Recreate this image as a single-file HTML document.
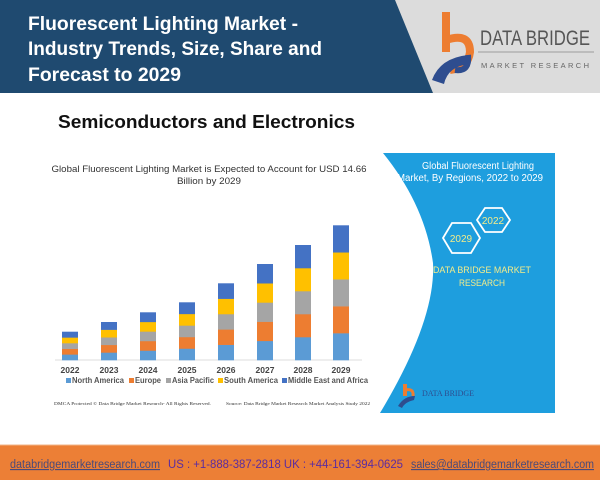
<!DOCTYPE html>
<html><head><meta charset="utf-8"><style>
*{margin:0;padding:0}
body{width:600px;height:480px;overflow:hidden;background:#fff;font-family:"Liberation Sans",sans-serif;position:relative}
.a{position:absolute}
</style></head><body>
<svg class="a" style="left:0;top:0" width="600" height="480">
<rect x="0" y="0" width="600" height="93" fill="#dcdcdc"/>
<polygon points="0,0 395,0 433,93 0,93" fill="#1f4a70"/>
<rect x="442" y="12" width="8" height="40" fill="#ed7d31"/>
<path d="M446 40 Q470 32 470 52 Q468 68 450 70" fill="none" stroke="#ed7d31" stroke-width="8"/>
<path d="M432 80 Q440 58 468 55 L470 64 Q448 66 444 84 Z" fill="#2e4d8f"/>
<path d="M455 70 Q470 72 468 55" fill="none" stroke="#2e4d8f" stroke-width="6"/>
<text x="480" y="45" font-family="Liberation Sans Narrow,Liberation Sans,sans-serif" font-size="21" fill="#555" textLength="110" lengthAdjust="spacingAndGlyphs">DATA BRIDGE</text>
<line x1="478" y1="52" x2="594" y2="52" stroke="#888" stroke-width="0.8"/>
<text x="481" y="68" font-size="7.5" fill="#666" textLength="108" lengthAdjust="spacing">MARKET RESEARCH</text>
<text x="28" y="30" font-size="19" font-weight="bold" fill="#fff" textLength="270" lengthAdjust="spacingAndGlyphs">Fluorescent Lighting Market -</text>
<text x="28" y="55" font-size="19" font-weight="bold" fill="#fff" textLength="294" lengthAdjust="spacingAndGlyphs">Industry Trends, Size, Share and</text>
<text x="28" y="81" font-size="19" font-weight="bold" fill="#fff" textLength="153" lengthAdjust="spacingAndGlyphs">Forecast to 2029</text>
<text x="58" y="128" font-size="18.5" font-weight="bold" fill="#111" textLength="297" lengthAdjust="spacingAndGlyphs">Semiconductors and Electronics</text>
<path d="M383 153 L555 153 L555 413 L380 413 Q436 320 433 263 Q425 205 383 153 Z" fill="#1e9ede"/>
<text x="478" y="169" font-size="10" fill="#fff" text-anchor="middle" textLength="112" lengthAdjust="spacingAndGlyphs">Global Fluorescent Lighting</text>
<text x="470" y="181" font-size="10" fill="#fff" text-anchor="middle" textLength="146" lengthAdjust="spacingAndGlyphs">Market, By Regions, 2022 to 2029</text>
<polygon points="477,220 485,208 502,208 510,220 502,232 485,232" fill="none" stroke="#fff" stroke-width="1.8"/>
<text x="493" y="224" font-size="10" fill="#f3ec8a" text-anchor="middle">2022</text>
<polygon points="443,238 452,223 471,223 480,238 471,253 452,253" fill="none" stroke="#fff" stroke-width="1.8"/>
<text x="461" y="242" font-size="10" fill="#f3ec8a" text-anchor="middle">2029</text>
<text x="482" y="273" font-size="9.5" fill="#f3ec8a" text-anchor="middle" textLength="98" lengthAdjust="spacingAndGlyphs">DATA BRIDGE MARKET</text>
<text x="482" y="286" font-size="9.5" fill="#f3ec8a" text-anchor="middle" textLength="46" lengthAdjust="spacingAndGlyphs">RESEARCH</text>
<rect x="403" y="384" width="4" height="12" fill="#ed7d31"/>
<path d="M405 390 Q414 388 413 396" fill="none" stroke="#ed7d31" stroke-width="3"/>
<path d="M398 406 Q404 396 415 396 L414 400 Q405 402 402 408Z" fill="#2e4d8f"/>
<text x="422" y="396" font-family="Liberation Serif,serif" font-size="8" fill="#2e4d8f">DATA BRIDGE</text>
<text x="209" y="172" font-size="9.5" fill="#333" text-anchor="middle" textLength="315" lengthAdjust="spacingAndGlyphs">Global Fluorescent Lighting Market is Expected to Account for USD 14.66</text>
<text x="209" y="184" font-size="9.5" fill="#333" text-anchor="middle" textLength="64" lengthAdjust="spacingAndGlyphs">Billion by 2029</text>
<line x1="55" y1="360" x2="362" y2="360" stroke="#ddd" stroke-width="1"/>
<g id="bars"></g>
<g font-size="8.5" font-weight="bold" fill="#444" text-anchor="middle">
<text x="70" y="373">2022</text><text x="109" y="373">2023</text><text x="148" y="373">2024</text><text x="187" y="373">2025</text><text x="226" y="373">2026</text><text x="265" y="373">2027</text><text x="303" y="373">2028</text><text x="341" y="373">2029</text>
</g>
<g font-size="8" font-weight="bold" fill="#555">
<rect x="66" y="378" width="5" height="5" fill="#5b9bd5"/><text x="72" y="383" textLength="52" lengthAdjust="spacingAndGlyphs">North America</text>
<rect x="129" y="378" width="5" height="5" fill="#ed7d31"/><text x="135" y="383" textLength="26" lengthAdjust="spacingAndGlyphs">Europe</text>
<rect x="166" y="378" width="5" height="5" fill="#a5a5a5"/><text x="172" y="383" textLength="42" lengthAdjust="spacingAndGlyphs">Asia Pacific</text>
<rect x="218" y="378" width="5" height="5" fill="#ffc000"/><text x="224" y="383" textLength="54" lengthAdjust="spacingAndGlyphs">South America</text>
<rect x="282" y="378" width="5" height="5" fill="#4472c4"/><text x="288" y="383" textLength="80" lengthAdjust="spacingAndGlyphs">Middle East and Africa</text>
</g>
<text x="54" y="405" font-family="Liberation Serif,serif" font-size="4.6" fill="#333" textLength="157" lengthAdjust="spacingAndGlyphs">DMCA Protected © Data Bridge Market Research- All Rights Reserved.</text>
<text x="226" y="405" font-family="Liberation Serif,serif" font-size="4.6" fill="#333" textLength="144" lengthAdjust="spacingAndGlyphs">Source: Data Bridge Market Research Market Analysis Study 2022</text>
<rect x="0" y="445" width="600" height="35" fill="#ec7f36"/>
<line x1="0" y1="445" x2="600" y2="445" stroke="#f2b488" stroke-width="1"/>
<g font-size="11.5">
<text x="10" y="468" fill="#4a4a7a" text-decoration="underline" textLength="150" lengthAdjust="spacingAndGlyphs">databridgemarketresearch.com</text>
<text x="168" y="468" fill="#5b2ca0" textLength="235" lengthAdjust="spacingAndGlyphs">US : +1-888-387-2818  UK : +44-161-394-0625</text>
<text x="411" y="468" fill="#4a4a7a" text-decoration="underline" textLength="183" lengthAdjust="spacingAndGlyphs">sales@databridgemarketresearch.com</text>
</g>
</svg>
<script>
var xs=[62,101,140,179,218,257,295,333],hs=[28.3,38,47.7,57.7,76.7,96,115,134.7],
cols=["#5b9bd5","#ed7d31","#a5a5a5","#ffc000","#4472c4"],g=document.getElementById("bars"),s="";
for(var i=0;i<8;i++){var h=hs[i]/5;for(var j=0;j<5;j++){s+='<rect x="'+xs[i]+'" y="'+(360-h*(j+1))+'" width="16" height="'+(h+0.3)+'" fill="'+cols[j]+'"/>';}}
g.innerHTML=s;
</script>
</body></html>
